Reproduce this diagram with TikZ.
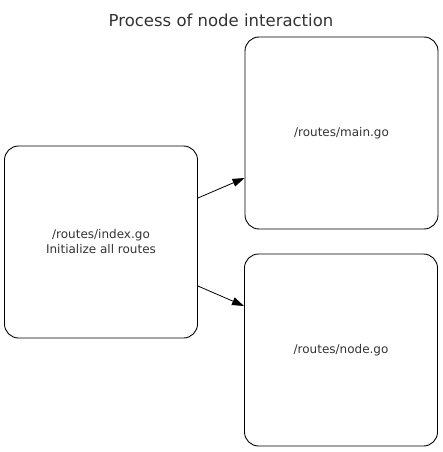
\documentclass[tikz,border=0pt]{standalone}
\usepackage{fontspec}
\setmainfont{DejaVu Sans}
\usepackage{xcolor}
\usetikzlibrary{arrows.meta}

\begin{document}
\begin{tikzpicture}[x=1pt, y=-1pt,
    routebox/.style={rectangle, draw, rounded corners=14pt, minimum width=193pt, minimum height=192pt, text=black!80, font=\fontsize{12}{15}\selectfont, align=center, line width=0.9pt},
    link/.style={-{Triangle[length=12pt, width=8pt]}, line width=0.8pt}]
    \useasboundingbox (0,0) rectangle (443,452);
    \node[text=black!80, font=\fontsize{16.5}{19}\selectfont] (title) at (221,20) {Process of node interaction};
    \node[routebox] (index) at (101,242) {/routes/index.go\\Initialize all routes};
    \node[routebox] (main) at (341.5,133) {/routes/main.go};
    \node[routebox] (node) at (341,350) {/routes/node.go};

    \draw[link] ([yshift=44pt]index.east) -- ([yshift=-45pt]main.west);
    \draw[link] ([yshift=-44pt]index.east) -- ([yshift=44pt]node.west);
\end{tikzpicture}
\end{document}
